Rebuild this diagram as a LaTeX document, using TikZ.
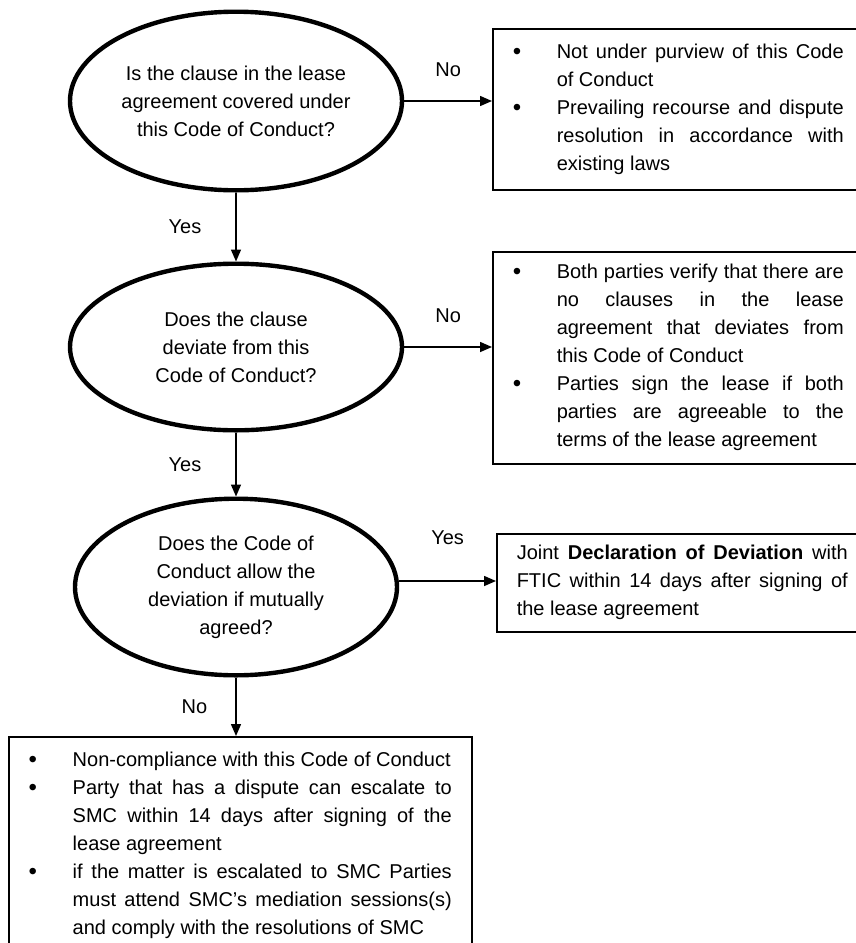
\documentclass[tikz,border=0pt]{standalone}
\usepackage{fontspec}
\setmainfont{Liberation Sans}
\usetikzlibrary{shapes.geometric,arrows.meta}
\newcommand\bullitem{\noindent\hangindent=22pt\hangafter=1%
    \hbox to 22pt{\raisebox{-.4pt}{\fontsize{12}{14}\selectfont\textbullet}\hfil}\ignorespaces}
\hyphenpenalty=10000
\exhyphenpenalty=10000
\emergencystretch=2em

\begin{document}
\begin{tikzpicture}[x=.5pt,y=-.5pt,
    font=\fontsize{10}{14}\selectfont,
    question/.style={ellipse,draw,line width=2.2pt,inner sep=0pt,align=center,
        minimum width=166pt,minimum height=89.3pt},
    answer/.style={rectangle,draw,line width=.75pt,anchor=north west,
        inner xsep=10pt,inner ysep=0pt,text width=165.5pt,align=justify},
    flow/.style={line width=.75pt,-{Triangle[length=6pt,width=5pt]}},
    choice/.style={inner sep=0pt}]
\useasboundingbox (0,0) rectangle (856,943);

% the three questions
\node[question]                                      (clause)  at (236,101)
    {Is the clause in the lease\\agreement covered under\\this Code of Conduct?};
\node[question,minimum height=83.3pt]                (deviate) at (236,347)
    {Does the clause\\deviate from this\\Code of Conduct?};
\node[question,minimum width=161pt,minimum height=88.3pt] (allowed) at (236,587)
    {Does the Code of\\Conduct allow the\\deviation if mutually\\agreed?};

% outcomes
\node[answer,minimum height=80.5pt] (purview) at (492,28) {%
    \bullitem Not under purview of this Code\linebreak of Conduct\par
    \bullitem Prevailing recourse and dispute\linebreak resolution in accordance with\linebreak existing laws\par};
\node[answer,minimum height=106pt]  (verify)  at (492,251) {%
    \bullitem Both parties verify that there are\linebreak no clauses in the lease\linebreak
        agreement that deviates from\linebreak this Code of Conduct\par
    \bullitem Parties sign the lease if both\linebreak parties are agreeable to the\linebreak
        terms of the lease agreement\par};
\node[answer,minimum height=49pt]   (declare) at (496,533)
    {Joint \textbf{Declaration of Deviation} with FTIC within 14 days after signing of the lease agreement};
\node[answer,text width=211.5pt,inner ysep=7.5pt] (noncomp) at (8,736) {%
    \bullitem Non-compliance with this Code of Conduct\par
    \bullitem Party that has a dispute can escalate to\linebreak SMC within 14 days after signing of the\linebreak
        lease agreement\par
    \bullitem if the matter is escalated to SMC Parties\linebreak must attend SMC’s mediation sessions(s)\linebreak
        and comply with the resolutions of SMC\par};

% connectors
\draw[flow] (clause.east) -- (clause.east -| purview.west)
    node[midway,choice,above=12pt] {No};
\draw[flow] (deviate.east) -- (deviate.east -| verify.west)
    node[midway,choice,above=12pt] {No};
\draw[flow] ([yshift=3pt]allowed.east) -- ([yshift=3pt]allowed.east -| declare.west)
    node[midway,choice,above=18pt] {Yes};
\draw[flow] (clause) -- (deviate)
    node[midway,choice,left=17pt] {Yes};
\draw[flow] (deviate) -- (allowed)
    node[midway,choice,left=17pt] {Yes};
\draw[flow] (allowed) -- (allowed |- noncomp.north)
    node[midway,choice,left=14pt] {No};
\end{tikzpicture}
\end{document}
